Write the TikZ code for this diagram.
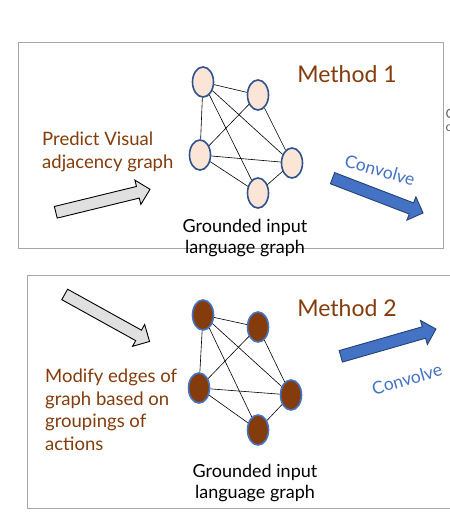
\documentclass[tikz,border=0pt]{standalone}
\usepackage{fontspec}
\setmainfont{Lato}
\usetikzlibrary{shapes.geometric,shapes.arrows}
\definecolor{brn}{HTML}{843C0C}
\definecolor{blu}{HTML}{4472C4}
\definecolor{dblu}{HTML}{2F528F}
\definecolor{peach}{HTML}{FBE5D6}
\definecolor{frame}{HTML}{A6A6A6}
\tikzset{
  nodeA/.style={ellipse,draw=dblu,line width=1.6pt,fill=peach,minimum width=21pt,minimum height=30pt,inner sep=0pt},
  nodeB/.style={ellipse,draw=blu,line width=1.6pt,fill=brn,minimum width=21pt,minimum height=30pt,inner sep=0pt},
  edge/.style={black,line width=0.6pt},
  greyarrow/.style={single arrow,draw=black,line width=0.9pt,fill=black!12,inner sep=5.5pt,minimum width=25pt,single arrow head extend=6.5pt,single arrow head indent=0pt},
  bluearrow/.style={single arrow,draw=dblu!80!black,line width=0.9pt,fill=blu,inner sep=5.5pt,minimum width=25pt,single arrow head extend=6.5pt,single arrow head indent=0pt},
  brntext/.style={text=brn,font=\fontsize{18.5}{22.5}\selectfont,align=left,inner sep=0pt},
  blacktext/.style={text=black,font=\fontsize{18}{21.5}\selectfont,align=center,inner sep=0pt},
  methodtext/.style={text=brn,font=\fontsize{23}{26}\selectfont,inner sep=0pt},
  convtext/.style={text=blu,font=\fontsize{17.5}{20}\selectfont,inner sep=0pt},
  cuttext/.style={text=black!60,font=\fontsize{13}{15}\selectfont,anchor=west,inner sep=0pt},
  box/.style={draw=frame,line width=0.8pt}
}
\begin{document}
\begin{tikzpicture}[x=1pt,y=-1pt]
\useasboundingbox (0,0) rectangle (450,520);
\clip (0,0) rectangle (450,520);
\fill[white] (0,0) rectangle (450,520);
% frames
\draw[box] (18,42) rectangle (443,248);
\draw[box] (27,275) rectangle (460,508);
% ---------- Method 1 ----------
\node[methodtext] (m1) at (347,74) {Method 1};
\node[brntext,anchor=north west] (p1) at (42,132) {Predict Visual\\adjacency graph};
\node[blacktext] (g1) at (245,238) {Grounded input\\language graph};
\node[greyarrow,minimum height=97pt,rotate=13.7] (ga1) at (100,201.5) {};
\node[bluearrow,minimum height=97pt,rotate=-21] (ba1) at (375,194.5) {};
\node[convtext,rotate=-16] (cv1) at (380,170) {Convolve};
\node[cuttext] (x1) at (445.5,114) {C};
\node[cuttext] (x2) at (445.5,128) {c};
\node[nodeA] (a1) at (203,82) {};
\node[nodeA] (b1) at (258,95) {};
\node[nodeA] (c1) at (200,155) {};
\node[nodeA] (d1) at (292,163) {};
\node[nodeA] (e1) at (258,193) {};
\draw[edge] (a1) -- (b1);
\draw[edge] (a1) -- (c1);
\draw[edge] (a1) -- (d1);
\draw[edge] (a1) -- (e1);
\draw[edge] (b1) -- (c1);
\draw[edge] (b1) -- (d1);
\draw[edge] (c1) -- (d1);
\draw[edge] (c1) -- (e1);
\draw[edge] (d1) -- (e1);
% ---------- Method 2 ----------
\node[methodtext] (m2) at (347,308) {Method 2};
\node[brntext,anchor=north west] (p2) at (45,369) {Modify edges of\\graph based on\\groupings of\\actions};
\node[blacktext] (g2) at (255,483) {Grounded input\\language graph};
\node[greyarrow,minimum height=97pt,rotate=-29] (ga2) at (104.5,316.5) {};
\node[bluearrow,minimum height=99pt,rotate=16] (ba2) at (385.5,343.5) {};
\node[convtext,rotate=16] (cv2) at (407,379) {Convolve};
\node[nodeB] (a2) at (203,315) {};
\node[nodeB] (b2) at (258,327) {};
\node[nodeB] (c2) at (199,388) {};
\node[nodeB] (d2) at (291,395) {};
\node[nodeB] (e2) at (258,430) {};
\draw[edge] (a2) -- (b2);
\draw[edge] (a2) -- (c2);
\draw[edge] (a2) -- (d2);
\draw[edge] (a2) -- (e2);
\draw[edge] (b2) -- (c2);
\draw[edge] (b2) -- (d2);
\draw[edge] (c2) -- (d2);
\draw[edge] (c2) -- (e2);
\draw[edge] (d2) -- (e2);
\end{tikzpicture}
\end{document}
